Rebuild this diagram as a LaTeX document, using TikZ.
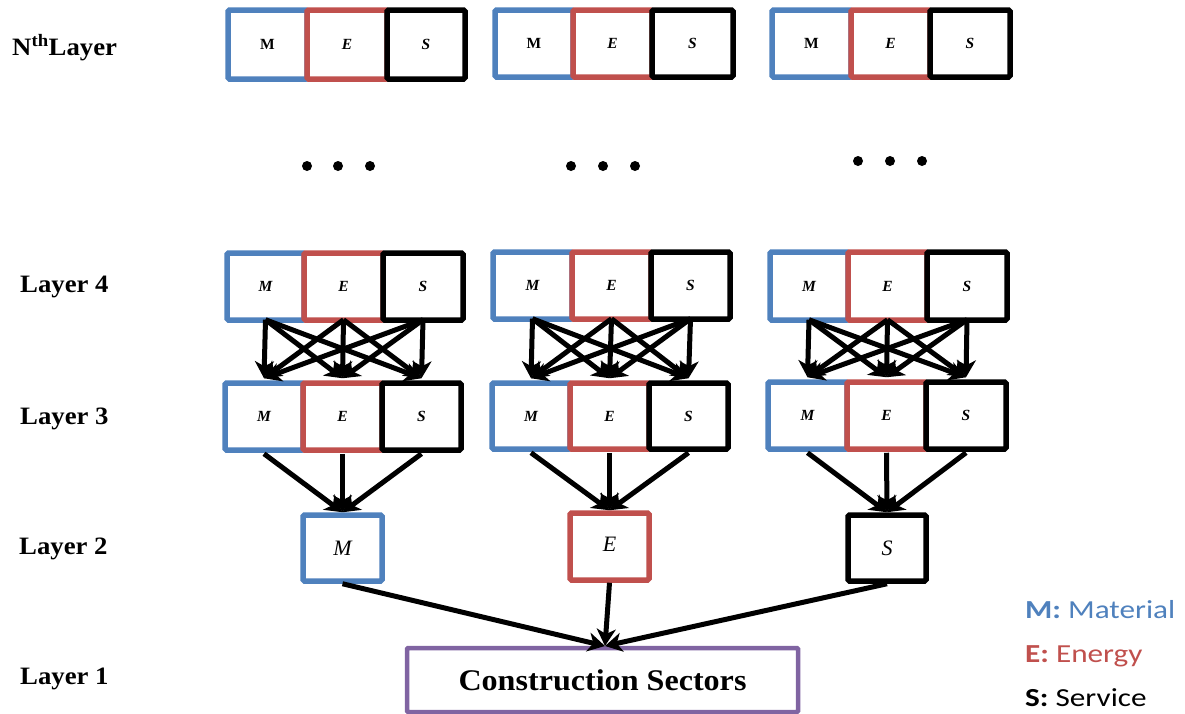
\documentclass[tikz,border=0pt]{standalone}
\usepackage{fontspec}
\setmainfont{Liberation Serif}
\newfontfamily\legendfont{Carlito}
\usetikzlibrary{arrows.meta}
\definecolor{mblue}{HTML}{4F81BD}
\definecolor{ered}{HTML}{C0504D}
\definecolor{cpurple}{HTML}{8064A2}
% box spanning x0..x1, y0..y1 (pixel-like units)
\newcommand\cell[7]{\node[#6, minimum width={#3-#2}, minimum height={#5-#4}] (#1) at ({(#2+#3)/2},{(#4+#5)/2}) {#7};}
% slightly widened serif text
\newcommand\wide[1]{\scalebox{1.07}[1]{#1}}
\begin{document}
\begin{tikzpicture}[x=1pt, y=-1pt,
  box/.style={draw, line width=5.5pt, rounded corners=1.5pt, fill=white, inner sep=0pt,
    font=\fontsize{15.5}{17}\selectfont\bfseries\itshape},
  mbx/.style={box, draw=mblue},
  ebx/.style={box, draw=ered},
  sbx/.style={box, draw=black},
  single/.style={font=\fontsize{22}{24}\selectfont\itshape},
  lab/.style={anchor=west, inner sep=0pt, font=\fontsize{25}{30}\selectfont\bfseries},
  leg/.style={anchor=west, inner sep=0pt, font=\legendfont\fontsize{26}{30}\selectfont},
  arr/.style={line width=5pt, -{Stealth[length=17pt, width=19pt, inset=5pt]}},
  dot/.style={fill=black}
]
\useasboundingbox (0,0) rectangle (1185,713);

% row labels
\node[lab] (lN) at (12,48) {\wide{N\textsuperscript{th}Layer}};
\node[lab] (l4) at (20,287) {\wide{Layer 4}};
\node[lab] (l3) at (20,419) {\wide{Layer 3}};
\node[lab] (l2) at (19,549) {\wide{Layer 2}};
\node[lab] (l1) at (20,679) {\wide{Layer 1}};

% N-th layer
\cell{nam}{228}{307}{10}{79}{mbx}{\upshape M}
\cell{nae}{307}{387}{10}{79}{ebx}{E}
\cell{nas}{387}{465}{10}{79}{sbx}{S}
\cell{nbm}{495}{573}{10}{77}{mbx}{\upshape M}
\cell{nbe}{573}{652}{10}{77}{ebx}{E}
\cell{nbs}{652}{733}{10}{77}{sbx}{S}
\cell{ncm}{772}{851}{10}{77}{mbx}{\upshape M}
\cell{nce}{851}{930}{10}{77}{ebx}{E}
\cell{ncs}{930}{1010}{10}{77}{sbx}{S}

% ellipsis dots
\foreach \x in {307,338,370} \fill[dot] (\x,166) circle (5);
\foreach \x in {571,603,635} \fill[dot] (\x,166) circle (5);
\foreach \x in {858,890,922} \fill[dot] (\x,161) circle (5);

% layer 4
\cell{am4}{227}{304}{253}{320}{mbx}{M}
\cell{ae4}{304}{383}{253}{320}{ebx}{E}
\cell{as4}{383}{463}{253}{320}{sbx}{S}
\cell{bm4}{493}{572}{252}{319}{mbx}{M}
\cell{be4}{572}{651}{252}{319}{ebx}{E}
\cell{bs4}{651}{730}{252}{319}{sbx}{S}
\cell{cm4}{770}{848}{252}{320}{mbx}{M}
\cell{ce4}{848}{927}{252}{320}{ebx}{E}
\cell{cs4}{927}{1007}{252}{320}{sbx}{S}

% layer 3
\cell{am3}{225}{303}{383}{450}{mbx}{M}
\cell{ae3}{303}{382}{383}{450}{ebx}{E}
\cell{as3}{382}{461}{383}{450}{sbx}{S}
\cell{bm3}{492}{570}{383}{449}{mbx}{M}
\cell{be3}{570}{649}{383}{449}{ebx}{E}
\cell{bs3}{649}{728}{383}{449}{sbx}{S}
\cell{cm3}{768}{847}{382}{449}{mbx}{M}
\cell{ce3}{847}{926}{382}{449}{ebx}{E}
\cell{cs3}{926}{1006}{382}{449}{sbx}{S}

% layer 2
\cell{m2}{303}{382}{515}{581}{mbx,single}{M}
\cell{e2}{570}{649}{513}{580}{ebx,single}{\raisebox{5pt}{E}}
\cell{s2}{848}{926}{515}{581}{sbx,single}{S}

% layer 1
\node[draw=cpurple, line width=4.5pt, rounded corners=1pt, minimum width=391, minimum height=64,
  inner sep=0pt, font=\fontsize{30}{34}\selectfont\bfseries] (cs) at (602.5,680) {\wide{Construction Sectors}};

% every layer-4 box feeds every layer-3 box of its group
\foreach \g in {a,b,c}{
  \foreach \s in {m,e,s}{
    \foreach \t in {m,e,s}{
      \draw[arr] ([yshift=3pt]\g\s4.south) -- ([yshift=2pt]\g\t3.north);
    }
  }
}

% layer 3 -> layer 2
\foreach \s in {m,e,s}{
  \draw[arr] ([yshift=-1pt]a\s3.south) -- (m2.north);
  \draw[arr] ([yshift=-1pt]b\s3.south) -- (e2.north);
  \draw[arr] ([yshift=-1pt]c\s3.south) -- (s2.north);
}

% layer 2 -> layer 1
\coordinate (hub) at (605,646);
\draw[arr] (m2.south) -- (hub);
\draw[arr] (e2.south) -- (hub);
\draw[arr] (s2.south) -- (hub);

% legend
\node[leg, text=mblue] (kM) at (1025,610) {\scalebox{1.2}[1]{\textbf{M:} Material}};
\node[leg, text=ered] (kE) at (1025,656) {\scalebox{1.2}[1]{\textbf{E:} Energy}};
\node[leg, text=black] (kS) at (1025,698) {\scalebox{1.2}[1]{\textbf{S:} Service}};
\end{tikzpicture}
\end{document}
